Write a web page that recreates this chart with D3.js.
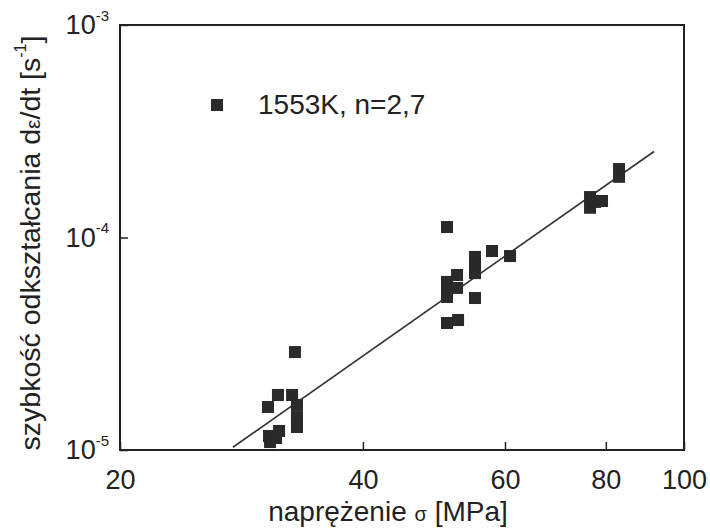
<!DOCTYPE html>
<html>
<head>
<meta charset="utf-8">
<script src="https://cdn.jsdelivr.net/npm/d3@7"></script>
<style>
  body { margin: 0; background: #fff; }
  svg { display: block; }
  text { font-family: "Liberation Sans", Arial, sans-serif; fill: #222; }
</style>
</head>
<body>
<div id="chart"></div>
<script>
// stress [MPa] and strain rate [1/s]
const stress = [
	32.95, 31.39, 32.68, 30.51, 33.14, 33.14, 33.14, 31.49, 30.6, 30.69, 31.22,
	50.85, 55.08, 55.08, 55.08, 57.82, 60.87, 52.33, 50.85, 50.85, 50.85, 52.33, 55.08, 50.85, 52.48,
	83.08, 83.08, 76.48, 76.48, 79.14, 77.58
];
const rate = [
	2.89e-5, 1.815e-5, 1.815e-5, 1.594e-5, 1.629e-5, 1.429e-5, 1.283e-5, 1.229e-5, 1.164e-5, 1.09e-5, 1.139e-5,
	1.12e-4, 8.1e-5, 7.42e-5, 6.8e-5, 8.64e-5, 8.18e-5, 6.66e-5, 6.18e-5, 5.6e-5, 5.25e-5, 5.79e-5, 5.19e-5, 3.96e-5, 4.09e-5,
	2.1e-4, 1.93e-4, 1.55e-4, 1.38e-4, 1.485e-4, 1.47e-4
];
// fitted power law line (n = 2,7), end points
const fitStress = [27.6, 91.8];
const fitRate = [1.03e-5, 2.54e-4];

const xTicks = [20, 40, 60, 80, 100];
const yTicks = [1e-5, 1e-4, 1e-3];
const yTickExp = ["-5", "-4", "-3"];
const legendLabel = "1553K, n=2,7";

const w = 710, h = 530;
const margin = { t: 25, r: 26, b: 80, l: 120 };

const svg = d3.select("#chart").append("svg")
	.attr("width", w)
	.attr("height", h);

const x = d3.scaleLog().domain([20, 100]).range([margin.l, w - margin.r]);
const y = d3.scaleLog().domain([1e-5, 1e-3]).range([h - margin.b, margin.t]);

// axes
const xAxisG = svg.append("g")
	.attr("transform", `translate(0, ${h - margin.b})`)
	.call(d3.axisBottom(x).tickValues(xTicks).tickFormat(d3.format("d"))
		.tickSize(-8).tickSizeOuter(0).tickPadding(20));
xAxisG.select(".domain").remove();
xAxisG.selectAll(".tick line").attr("stroke", "#222").attr("stroke-width", 1.5);
xAxisG.selectAll(".tick text").attr("font-size", 27).attr("fill", "#222");

const yAxisG = svg.append("g")
	.attr("transform", `translate(${margin.l}, 0)`)
	.call(d3.axisLeft(y).tickValues(yTicks).tickFormat(() => "")
		.tickSize(-8).tickSizeOuter(0).tickPadding(11));
yAxisG.select(".domain").remove();
yAxisG.selectAll(".tick line").attr("stroke", "#222").attr("stroke-width", 1.5);
yAxisG.selectAll(".tick text")
	.attr("font-size", 27)
	.attr("fill", "#222")
	.each(function (d, i) {
		const t = d3.select(this);
		t.append("tspan").text("10");
		t.append("tspan").attr("font-size", 15).attr("dy", "-0.9em").text(yTickExp[i]);
	});

// frame
svg.append("rect")
	.attr("x", margin.l)
	.attr("y", margin.t)
	.attr("width", w - margin.l - margin.r)
	.attr("height", h - margin.t - margin.b)
	.attr("fill", "none")
	.attr("stroke", "#222")
	.attr("stroke-width", 2);

// fit line
const fitData = fitStress.map((s, i) => [s, fitRate[i]]);
svg.append("path")
	.datum(fitData)
	.attr("d", d3.line().x(d => x(d[0])).y(d => y(d[1])))
	.attr("fill", "none")
	.attr("stroke", "#333")
	.attr("stroke-width", 1.6);

// points
const sq = 12;
svg.append("g").selectAll("rect")
	.data(stress.map((s, i) => [s, rate[i]]))
	.join("rect")
	.attr("x", d => x(d[0]) - sq / 2)
	.attr("y", d => y(d[1]) - sq / 2)
	.attr("width", sq)
	.attr("height", sq)
	.attr("fill", "#2a2a2a");

// legend
svg.append("rect")
	.attr("x", 211).attr("y", 99)
	.attr("width", sq).attr("height", sq)
	.attr("fill", "#2a2a2a");
svg.append("text")
	.attr("x", 258).attr("y", 114)
	.attr("font-size", 28)
	.text(legendLabel);

// axis titles
const xTitle = svg.append("text")
	.attr("x", 388).attr("y", 521)
	.attr("text-anchor", "middle")
	.attr("font-size", 28);
xTitle.append("tspan").text("naprężenie ");
xTitle.append("tspan").attr("font-size", 20).text("σ");
xTitle.append("tspan").text(" [MPa]");

const yTitle = svg.append("text")
	.attr("transform", "translate(40, 243) rotate(-90)")
	.attr("text-anchor", "middle")
	.attr("font-size", 28.5);
yTitle.append("tspan").text("szybkość odkształcania d");
yTitle.append("tspan").attr("font-size", 21).text("ε");
yTitle.append("tspan").text("/dt [s");
yTitle.append("tspan").attr("font-size", 16).attr("dy", "-0.9em").text("-1");
yTitle.append("tspan").attr("dy", "0.55em").text("]");
</script>
</body>
</html>
